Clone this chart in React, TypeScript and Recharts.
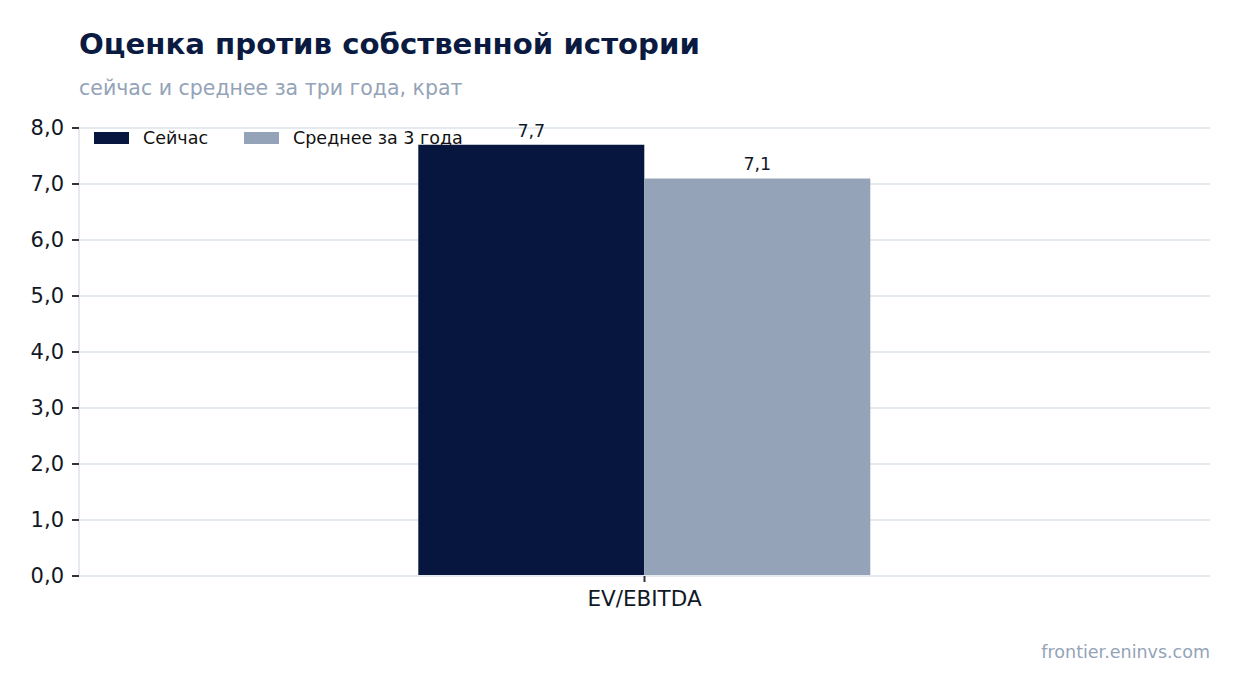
import React from "react";
import { BarChart, Bar, XAxis, YAxis, CartesianGrid, LabelList } from "recharts";

const categories = ["EV/EBITDA"];
const nowValues = [7.7];
const avgValues = [7.1];
const yTicks = [0, 1, 2, 3, 4, 5, 6, 7, 8];
const seriesNames = ["Сейчас", "Среднее за 3 года"];
const seriesColors = ["#06163f", "#94a3b8"];

const data = categories.map((c, i) => ({ name: c, now: nowValues[i], avg: avgValues[i] }));

const fmt = (v: number) => v.toFixed(1).replace(".", ",");
const FONT = "'DejaVu Sans', sans-serif";

export default function App() {
  return (
    <div style={{ position: "absolute", left: 0, top: 0, width: 1241, height: 693, background: "#fff", fontFamily: FONT }}>
      <div style={{ position: "absolute", left: 79, top: 27, fontSize: 29.2, fontWeight: "bold", color: "#0a1a40", whiteSpace: "nowrap" }}>
        Оценка против собственной истории
      </div>
      <div style={{ position: "absolute", left: 79, top: 76, fontSize: 20.5, color: "#94a3b8", whiteSpace: "nowrap" }}>
        сейчас и среднее за три года, крат
      </div>
      <BarChart
        width={1241}
        height={693}
        data={data}
        margin={{ top: 128, right: 31, left: 0, bottom: 77 }}
        barCategoryGap="30%"
        barGap={0}
      >
        <CartesianGrid vertical={false} stroke="#e5e9f0" strokeWidth={2} />
        <XAxis
          dataKey="name"
          height={40}
          axisLine={{ stroke: "#e5e9f0", strokeWidth: 2 }}
          tickLine={{ stroke: "#333", strokeWidth: 2 }}
          tickSize={6}
          tickMargin={9}
          tick={{ fontFamily: FONT, fontSize: 21.5, fill: "#111827" }}
        />
        <YAxis
          width={79}
          domain={[0, 8]}
          ticks={yTicks}
          tickFormatter={fmt}
          axisLine={{ stroke: "#e5e9f0", strokeWidth: 2 }}
          tickLine={{ stroke: "#333", strokeWidth: 2 }}
          tickSize={7}
          tickMargin={8}
          tick={{ fontFamily: FONT, fontSize: 21, fill: "#111827" }}
          interval={0}
        />
        <Bar dataKey="now" name={seriesNames[0]} fill={seriesColors[0]} isAnimationActive={false}>
          <LabelList dataKey="now" position="top" offset={8} formatter={(v: any) => fmt(Number(v))} style={{ fontFamily: FONT, fontSize: 17.5, fill: "#111827" }} />
        </Bar>
        <Bar dataKey="avg" name={seriesNames[1]} fill={seriesColors[1]} isAnimationActive={false}>
          <LabelList dataKey="avg" position="top" offset={8} formatter={(v: any) => fmt(Number(v))} style={{ fontFamily: FONT, fontSize: 17.5, fill: "#111827" }} />
        </Bar>
      </BarChart>
      <div style={{ position: "absolute", left: 94, top: 128, display: "flex", alignItems: "center", fontSize: 17.5, color: "#111", height: 20 }}>
        {seriesNames.map((n, i) => (
          <div key={n} style={{ display: "flex", alignItems: "center", marginRight: i === 0 ? 36 : 0 }}>
            <div style={{ width: 35, height: 12, background: seriesColors[i], marginRight: 14 }} />
            <span style={{ whiteSpace: "nowrap" }}>{n}</span>
          </div>
        ))}
      </div>
      <div style={{ position: "absolute", right: 31, top: 642, fontSize: 17.5, color: "#94a3b8", whiteSpace: "nowrap" }}>
        frontier.eninvs.com
      </div>
    </div>
  );
}
